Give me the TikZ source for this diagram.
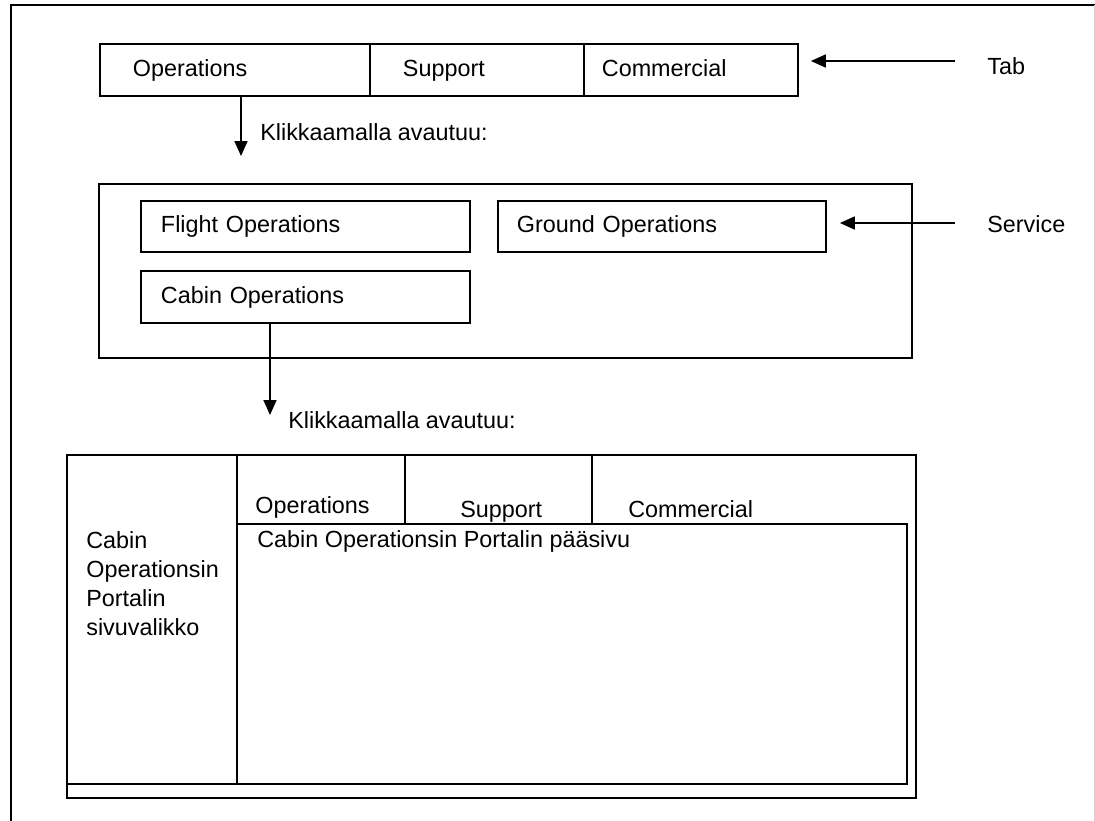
\documentclass[tikz,border=0pt]{standalone}
\usepackage{fontspec}
\setmainfont{Liberation Sans}
\usetikzlibrary{arrows.meta, positioning}

\begin{document}
\begin{tikzpicture}[
        x=0.02cm, y=-0.02cm,
        every node/.style={font=\fontsize{13.3}{16.5}\selectfont},
        box/.style={draw, line width=1pt, inner ysep=0pt, outer sep=0pt, align=left, text height=0.9em, text depth=0.18em},
        plain/.style={inner sep=0pt, anchor=west},
        lbl/.style={plain, text height=0.9em, text depth=0.18em},
        arrow/.style={-{Triangle[length=0.3cm, width=0.26cm]}, line width=1pt}
    ]
        \useasboundingbox (0,0) rectangle (1095,821);
        % Page frame
        \draw[line width=1pt] (11,821) -- (11,5) -- (1095,5);
        \draw[gray!35] (1094,5) -- (1094,821);

        % Tab bar
        \node[box, anchor=north west, minimum height=1.04cm, inner xsep=0.66cm, text width=4.08cm] (tabops) at (100,44) {Operations};
        \node[box, minimum height=1.04cm, inner xsep=0.66cm, text width=2.96cm, right=0cm of tabops] (tabsup) {Support};
        \node[box, minimum height=1.04cm, inner xsep=0.36cm, text width=3.56cm, right=0cm of tabsup] (tabcom) {Commercial};
        \node[lbl] (tablbl) at (987,68) {Tab};

        % Service box
        \node[box, anchor=north west, minimum width=16.26cm, minimum height=3.48cm] (service) at (99,184) {};
        \node[box, anchor=north west, minimum height=1.02cm, inner xsep=0.4cm, text width=5.78cm] (flight) at (141,201) {Flight Operations};
        \node[box, anchor=west, minimum height=1.02cm, inner xsep=0.38cm, text width=5.8cm, right=0.56cm of flight] (ground) {Ground Operations};
        \node[box, minimum height=1.04cm, inner xsep=0.4cm, text width=5.78cm, below=0.38cm of flight] (cabin) {Cabin Operations};
        \node[lbl] (servicelbl) at (987,226) {Service};

        % Portal page
        \node[box, anchor=north west, minimum width=16.98cm, minimum height=6.86cm] (portal) at (67,455) {};
        \node[box, anchor=north west, minimum width=3.4cm, minimum height=6.58cm] (side) at (67,455) {};
        \node[box, anchor=north west, minimum width=13.4cm, minimum height=5.2cm] (content) at (237,524) {};
        \node[box, anchor=north west, minimum width=3.36cm, minimum height=1.38cm] (ptabops) at (237,455) {};
        \node[box, minimum width=3.74cm, minimum height=1.38cm, right=0cm of ptabops] (ptabsup) {};
        \node[lbl] (ptabopst) at (255,507) {Operations};
        \node[lbl] (ptabsupt) at (460,511) {Support};
        \node[lbl] (ptabcomt) at (628,511) {Commercial};
        \node[lbl] (contentt) at (257,541) {Cabin Operationsin Portalin pääsivu};
        \node[plain, align=left] (sidet) at (86,584) {Cabin\\Operationsin\\Portalin\\sivuvalikko};

        % Arrows
        \coordinate (tabfrom) at (955,61);
        \draw[arrow, shorten >=0.26cm] (tabfrom) -- (tabfrom -| tabcom.east);
        \coordinate (servicefrom) at (955,223);
        \draw[arrow, shorten >=0.28cm] (servicefrom) -- (servicefrom -| ground.east);
        \coordinate (klik1) at (241,156);
        \draw[arrow] (tabops.south -| klik1) -- (klik1);
        \node[lbl] (klik1lbl) at (260,134) {Klikkaamalla avautuu:};
        \coordinate (klik2) at (270,415);
        \draw[arrow] (cabin.south -| klik2) -- (klik2);
        \node[lbl] (klik2lbl) at (288,422) {Klikkaamalla avautuu:};
    \end{tikzpicture}
\end{document}
